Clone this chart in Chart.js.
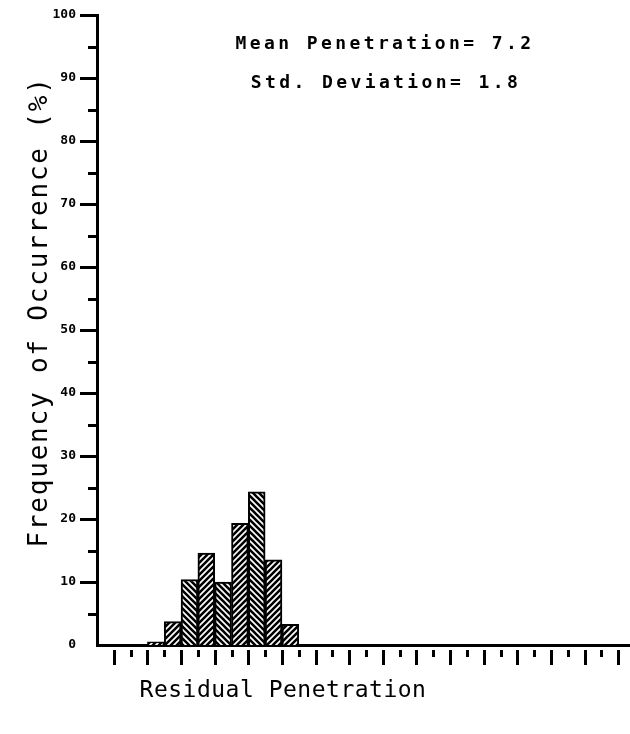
<!DOCTYPE html>
<html>
<head>
<meta charset="utf-8">
<script src="https://cdn.jsdelivr.net/npm/chart.js@4.4.1/dist/chart.umd.min.js"></script>
<style>
  html, body { margin: 0; padding: 0; background: #fff; }
  #wrap { width: 630px; height: 734px; }
</style>
</head>
<body>
<div id="wrap"><canvas id="histChart" width="630" height="734"></canvas></div>
<script>
// histogram bins (left edge of each bin, in axis units) and frequency (%)
const binStarts = [3, 4, 5, 6, 7, 8, 9, 10, 11];
const frequency = [0.5, 3.7, 10.4, 14.6, 10.0, 19.3, 24.3, 13.5, 3.3];
const hatchDir = ["/", "/", "\\", "/", "\\", "/", "\\", "/", "/"];
const yTickLabels = [0, 10, 20, 30, 40, 50, 60, 70, 80, 90, 100];
const statLines = ["Mean Penetration= 7.2", "Std. Deviation= 1.8"];
const xTitle = "Residual Penetration";
const yTitle = "Frequency of Occurrence (%)";

const MONO = "'DejaVu Sans Mono', 'Liberation Mono', monospace";

// diagonal hatch fill like the plotter bars
function makeHatch(dir) {
  const s = 6;
  const c = document.createElement("canvas");
  c.width = s; c.height = s;
  const g = c.getContext("2d");
  g.fillStyle = "#fff";
  g.fillRect(0, 0, s, s);
  g.strokeStyle = "#000";
  g.lineWidth = 2.6;
  g.beginPath();
  if (dir === "/") {
    g.moveTo(-2, s + 2); g.lineTo(s + 2, -2);
    g.moveTo(-2, 2); g.lineTo(2, -2);
    g.moveTo(s - 2, s + 2); g.lineTo(s + 2, s - 2);
  } else {
    g.moveTo(-2, -2); g.lineTo(s + 2, s + 2);
    g.moveTo(-2, s - 2); g.lineTo(2, s + 2);
    g.moveTo(s - 2, -2); g.lineTo(s + 2, 2);
  }
  g.stroke();
  return document.getElementById("histChart").getContext("2d").createPattern(c, "repeat");
}

const barData = binStarts.map((b, i) => ({ x: b + 0.5, y: frequency[i] }));

// ticks, titles and stats text
const decorPlugin = {
  id: "decor",
  afterDraw(chart) {
    const ctx = chart.ctx;
    const xs = chart.scales.x;
    const ys = chart.scales.y;
    const area = chart.chartArea;
    ctx.save();
    ctx.strokeStyle = "#000";
    ctx.lineWidth = 3;
    ctx.beginPath();
    for (let v = 1; v <= Math.floor(xs.max); v++) {
      const px = Math.round(xs.getPixelForValue(v)) + 0.5;
      const len = v % 2 === 1 ? 15 : 7;
      ctx.moveTo(px, area.bottom + 5);
      ctx.lineTo(px, area.bottom + 5 + len);
    }
    for (let v = 5; v <= 100; v += 5) {
      const py = Math.round(ys.getPixelForValue(v)) + 0.5;
      const len = v % 10 === 0 ? 17 : 9;
      ctx.moveTo(area.left, py);
      ctx.lineTo(area.left - len, py);
    }
    ctx.stroke();

    ctx.fillStyle = "#000";
    ctx.textAlign = "center";
    ctx.textBaseline = "alphabetic";
    ctx.font = "bold 18px " + MONO;
    ctx.letterSpacing = "3.4px";
    ctx.fillText(statLines[0], 385, 49);
    ctx.fillText(statLines[1], 386, 88);

    ctx.font = "23px " + MONO;
    ctx.letterSpacing = "0.5px";
    ctx.fillText(xTitle, 283, 697);

    ctx.translate(47, 312);
    ctx.rotate(-Math.PI / 2);
    ctx.font = "26px " + MONO;
    ctx.letterSpacing = "1.8px";
    ctx.fillText(yTitle, 0, 0);
    ctx.restore();
  }
};

new Chart(document.getElementById("histChart"), {
  type: "bar",
  data: {
    datasets: [{
      data: barData,
      backgroundColor: hatchDir.map(makeHatch),
      borderColor: "#000",
      borderWidth: 2,
      borderSkipped: "bottom",
      barPercentage: 1.0,
      categoryPercentage: 1.0
    }]
  },
  options: {
    responsive: false,
    animation: false,
    layout: { padding: { left: 0, right: 0, top: 15, bottom: 89 } },
    plugins: { legend: { display: false }, tooltip: { enabled: false } },
    scales: {
      x: {
        type: "linear",
        offset: false,
        min: 0,
        max: 31.7,
        grid: { display: false, drawTicks: false },
        border: { display: true, color: "#000", width: 3 },
        ticks: { display: false, stepSize: 1 }
      },
      y: {
        min: 0,
        max: 100,
        afterBuildTicks: (scale) => {
          scale.ticks = yTickLabels.map(v => ({ value: v }));
        },
        afterFit: (scale) => {
          scale.width = 97;
          scale.paddingTop = 0;
          scale.paddingBottom = 0;
        },
        grid: { display: false, drawTicks: false },
        border: { display: true, color: "#000", width: 3 },
        ticks: {
          padding: 21,
          color: "#000",
          font: { family: MONO, size: 13, weight: "bold" }
        }
      }
    }
  },
  plugins: [decorPlugin]
});
</script>
</body>
</html>
